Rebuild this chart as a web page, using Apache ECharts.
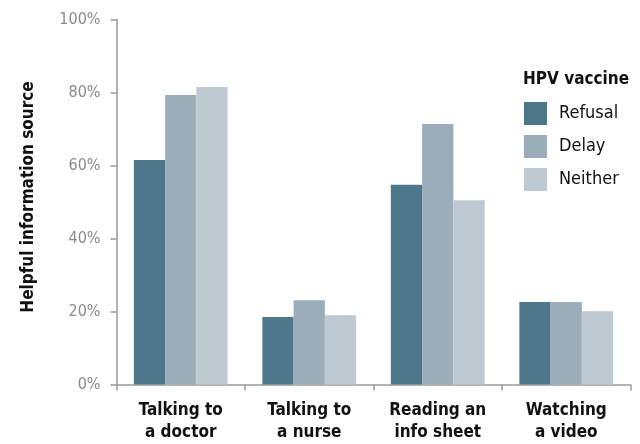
<!DOCTYPE html>
<html>
<head>
<meta charset="utf-8">
<style>
  html, body { margin: 0; padding: 0; background: #fff; }
  #chart { width: 640px; height: 444px; }
</style>
<script src="https://cdn.jsdelivr.net/npm/echarts@6/dist/echarts.min.js"></script>
</head>
<body>
<div id="chart"></div>
<script>
// Share of parents finding each source helpful, by HPV vaccine decision
const categories = ['Talking to\na doctor', 'Talking to\na nurse', 'Reading an\ninfo sheet', 'Watching\na video'];
const seriesNames = ['Refusal', 'Delay', 'Neither'];
const refusal = [61.5, 18.5, 54.7, 22.6];
const delay = [79.3, 23.1, 71.4, 22.6];
const neither = [81.5, 19.0, 50.5, 20.1];
const yTicks = [0, 20, 40, 60, 80, 100];

const FONT = '"Liberation Sans Narrow", "DejaVu Sans Condensed", "Liberation Sans", sans-serif';
const colors = ['#4f778b', '#9badb8', '#bec9d2'];
const values = [refusal, delay, neither];

const chart = echarts.init(document.getElementById('chart'));
chart.setOption({
  animation: false,
  textStyle: { fontFamily: FONT },
  color: colors,
  title: {
    text: 'HPV vaccine',
    left: 523,
    top: 71,
    padding: 0,
    textStyle: { fontFamily: FONT, fontSize: 17, fontWeight: 'bold', color: '#111' }
  },
  legend: {
    orient: 'vertical',
    left: 524,
    top: 102,
    padding: 0,
    itemWidth: 23,
    itemHeight: 23,
    itemGap: 10,
    icon: 'rect',
    data: seriesNames,
    textStyle: { fontFamily: FONT, fontSize: 18, color: '#111', padding: [0, 0, 0, 7] }
  },
  grid: { left: 116.5, right: 9.5, top: 19.5, bottom: 59.5 },
  xAxis: {
    type: 'category',
    data: categories,
    axisLine: { lineStyle: { color: '#9a9a9a', width: 1.5 } },
    axisTick: { show: true, length: 6, lineStyle: { color: '#9a9a9a', width: 1.5 } },
    axisLabel: {
      fontFamily: FONT, fontSize: 17, fontWeight: 'bold', color: '#111',
      lineHeight: 22, margin: 15, interval: 0
    }
  },
  yAxis: {
    type: 'value',
    min: yTicks[0],
    max: yTicks[yTicks.length - 1],
    interval: 20,
    name: 'Helpful information source',
    nameLocation: 'middle',
    nameGap: 79,
    nameTextStyle: { fontFamily: FONT, fontSize: 17, fontWeight: 'bold', color: '#111', padding: [0, 0, 0, 10] },
    axisLine: { show: true, lineStyle: { color: '#9a9a9a', width: 1.5 } },
    axisTick: { show: true, length: 6, lineStyle: { color: '#9a9a9a', width: 1.5 } },
    splitLine: { show: false },
    axisLabel: { fontFamily: FONT, fontSize: 16, color: '#8a8a8a', margin: 16, formatter: '{value}%' }
  },
  series: seriesNames.map((name, i) => ({
    name,
    type: 'bar',
    data: values[i],
    barGap: '0%',
    barCategoryGap: '27%',
    itemStyle: { color: colors[i] }
  }))
});
</script>
</body>
</html>
